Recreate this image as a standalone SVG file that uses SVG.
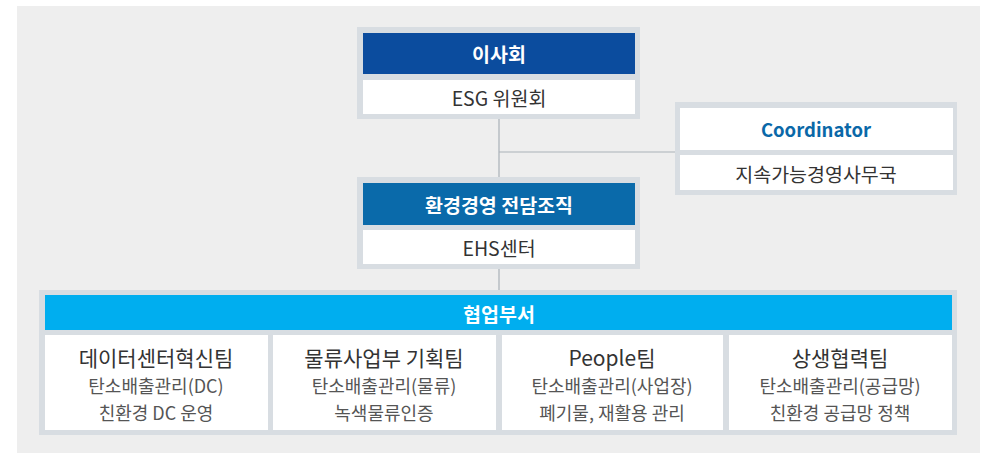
<svg xmlns="http://www.w3.org/2000/svg" width="987" height="453" viewBox="0 0 987 453">
<style>
text{font-family:"Noto Sans CJK KR","Noto Sans",sans-serif;text-anchor:middle;dominant-baseline:central}
.frame{fill:#d8dde2}
.white{fill:#ffffff}
.hd{fill:#ffffff;font-weight:bold;font-size:19.5px}
.lb{fill:#333333;font-size:19.5px}
.tt{fill:#333333;font-size:21px}
.sb{fill:#555555;font-size:18px}
.ln{stroke:#aab1b8;stroke-width:1.2;fill:none}
</style>
<rect x="17" y="6" width="963" height="447" fill="#eeeeee"/>
<g id="connectors">
<path class="ln" d="M499 119V177M499 152H675M499 269V290"/>
</g>
<g id="board">
<rect class="frame" x="357" y="27" width="283" height="92"/>
<rect x="363" y="33" width="272" height="41" fill="#0b4c9e"/>
<rect class="white" x="363" y="80" width="272" height="34"/>
<text class="hd" x="499" y="53">이사회</text>
<text class="lb" x="499" y="97">ESG 위원회</text>
</g>
<g id="coordinator">
<rect class="frame" x="675" y="102" width="282" height="93"/>
<rect class="white" x="680" y="108" width="273" height="42"/>
<rect class="white" x="680" y="155" width="273" height="35"/>
<text x="816" y="129" style="fill:#0a68a8;font-weight:bold;font-size:18.5px">Coordinator</text>
<text class="lb" x="816" y="173">지속가능경영사무국</text>
</g>
<g id="env">
<rect class="frame" x="357" y="177" width="283" height="92"/>
<rect x="363" y="183" width="272" height="42" fill="#0a6aaa"/>
<rect class="white" x="363" y="230" width="272" height="34"/>
<text class="hd" x="499" y="204">환경경영 전담조직</text>
<text class="lb" x="499" y="247">EHS센터</text>
</g>
<g id="coop">
<rect class="frame" x="39" y="290" width="918" height="145"/>
<rect x="45" y="295" width="907" height="35" fill="#00aeef"/>
<text class="hd" x="499" y="313">협업부서</text>
</g>
<g id="team1">
<rect class="white" x="45" y="335" width="223" height="95"/>
<text class="tt" x="156" y="357">데이터센터혁신팀</text>
<text class="sb" x="156" y="385">탄소배출관리(DC)</text>
<text class="sb" x="156" y="412">친환경 DC 운영</text>
</g>
<g id="team2">
<rect class="white" x="273" y="335" width="223" height="95"/>
<text class="tt" x="384" y="357">물류사업부 기획팀</text>
<text class="sb" x="384" y="385">탄소배출관리(물류)</text>
<text class="sb" x="384" y="412">녹색물류인증</text>
</g>
<g id="team3">
<rect class="white" x="502" y="335" width="221" height="95"/>
<text class="tt" x="612" y="357">People팀</text>
<text class="sb" x="612" y="385">탄소배출관리(사업장)</text>
<text class="sb" x="612" y="412">폐기물, 재활용 관리</text>
</g>
<g id="team4">
<rect class="white" x="729" y="335" width="223" height="95"/>
<text class="tt" x="840" y="357">상생협력팀</text>
<text class="sb" x="840" y="385">탄소배출관리(공급망)</text>
<text class="sb" x="840" y="412">친환경 공급망 정책</text>
</g>
</svg>
